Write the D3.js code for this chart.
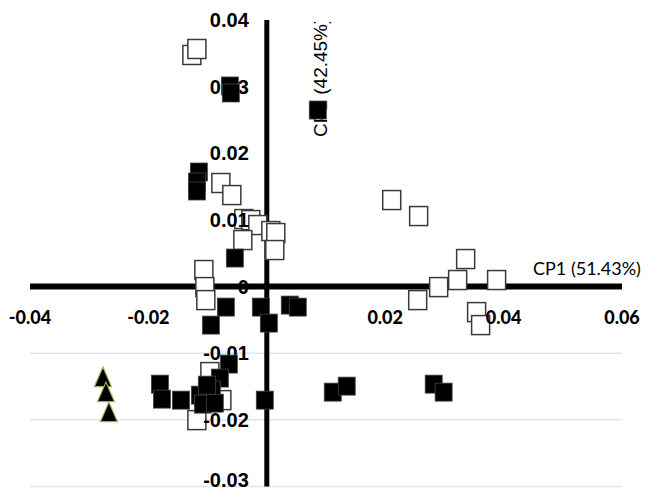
<!DOCTYPE html>
<html>
<head>
<meta charset="utf-8">
<script src="https://cdn.jsdelivr.net/npm/d3@7/dist/d3.min.js"></script>
<style>
  html, body { margin: 0; padding: 0; background: #fff; }
  svg { display: block; }
</style>
</head>
<body>
<div id="chart"></div>
<script>
// PCA scores: CP1 (x) vs CP2 (y)
const xTicks = [-0.04, -0.02, 0.02, 0.04, 0.06];
const xTickLabels = ["-0.04", "-0.02", "0.02", "0.04", "0.06"];
const yTicks = [0.04, 0.03, 0.02, 0.01, 0, -0.01, -0.02, -0.03];
const yTickLabels = ["0.04", "0.03", "0.02", "0.01", "0", "-0.01", "-0.02", "-0.03"];
const gridValues = [-0.01, -0.02, -0.03];

// open squares
const openX = [-0.01266, -0.01181, -0.00776, -0.00591, -0.00388, -0.00270, -0.00152, 0.00068, 0.00152,
  -0.00405, 0.00135, -0.01063, -0.01046, -0.01030, -0.00962, -0.01181, -0.00759,
  0.02110, 0.02565, 0.03359, 0.03224, 0.02903, 0.02549, 0.03882, 0.03544, 0.03612];
const openY = [0.03475, 0.03565, 0.01554, 0.01373, 0.01013, 0.00998, 0.00923, 0.00833, 0.00803,
  0.00698, 0.00548, 0.00248, -0.00008, -0.00203, -0.01283, -0.02004, -0.01704,
  0.01298, 0.01058, 0.00413, 0.00098, -0.00008, -0.00203, 0.00098, -0.00383, -0.00578];

// filled squares
const filledX = [-0.00624, -0.00608, 0.00861, -0.01148, -0.01181, -0.01181, -0.00540, -0.00692, -0.00945,
  -0.00101, 0.00034, 0.00388, 0.00523, -0.01806, -0.01772, -0.01451, -0.00641, -0.00793,
  -0.00928, -0.01131, -0.01080, -0.00878, -0.01013, -0.00034, 0.01114, 0.01350, 0.02819, 0.02987];
const filledY = [0.03010, 0.02905, 0.02649, 0.01719, 0.01569, 0.01434, 0.00428, -0.00308, -0.00578,
  -0.00308, -0.00548, -0.00278, -0.00308, -0.01464, -0.01689, -0.01704, -0.01163, -0.01373,
  -0.01554, -0.01629, -0.01764, -0.01749, -0.01479, -0.01704, -0.01584, -0.01494, -0.01464, -0.01584];

// triangles
const triX = [-0.02768, -0.02717, -0.02667];
const triY = [-0.01373, -0.01599, -0.01899];

const W = 650, H = 493;
const svg = d3.select("#chart").append("svg").attr("width", W).attr("height", H);

const x = d3.scaleLinear().domain([-0.04, 0.06]).range([30, 622]);
const y = d3.scaleLinear().domain([-0.03, 0.04]).range([486.5, 20]);

// horizontal gridlines
svg.append("g").selectAll("line").data(gridValues).join("line")
  .attr("x1", x(-0.04)).attr("x2", x(0.06))
  .attr("y1", d => y(d)).attr("y2", d => y(d))
  .attr("stroke", "#dde5f0").attr("stroke-width", 1.5);

// axes through the origin
svg.append("line")
  .attr("x1", x(-0.04)).attr("x2", x(0.06))
  .attr("y1", y(0)).attr("y2", y(0))
  .attr("stroke", "#000").attr("stroke-width", 6);
svg.append("line")
  .attr("x1", x(0)).attr("x2", x(0))
  .attr("y1", y(0.04)).attr("y2", y(-0.03))
  .attr("stroke", "#000").attr("stroke-width", 5);

// open squares (drawn beneath the labels)
const openData = openX.map((v, i) => [v, openY[i]]);
svg.append("g").selectAll("rect").data(openData).join("rect")
  .attr("x", d => x(d[0]) - 9).attr("y", d => y(d[1]) - 9.5)
  .attr("width", 18).attr("height", 19)
  .attr("fill", "#fff").attr("stroke", "#3a3a3a").attr("stroke-width", 1.5);

// x tick labels
svg.append("g").selectAll("text").data(xTicks).join("text")
  .attr("x", d => x(d)).attr("y", y(0) + 37)
  .attr("text-anchor", "middle")
  .style("font-family", "Lato, 'Open Sans', sans-serif")
  .style("font-weight", "900").style("font-size", "18px")
  .text((d, i) => xTickLabels[i]);

// y tick labels (the lowest one is nudged up to stay inside the frame)
svg.append("g").selectAll("text").data(yTicks).join("text")
  .attr("x", x(0) - 18).attr("y", d => Math.min(y(d), 480))
  .attr("dy", "0.36em")
  .attr("text-anchor", "end")
  .style("font-family", "'Liberation Sans', Arial, sans-serif")
  .style("font-weight", "bold").style("font-size", "20px")
  .text((d, i) => yTickLabels[i]);

// axis titles
svg.append("text")
  .attr("x", 533).attr("y", y(0) - 12)
  .style("font-family", "Lato, 'Open Sans', sans-serif")
  .style("font-size", "18px")
  .text("CP1 (51.43%)");

svg.append("clipPath").attr("id", "cp2clip")
  .append("rect").attr("x", 0).attr("y", 22).attr("width", W).attr("height", H);
svg.append("g").attr("clip-path", "url(#cp2clip)")
  .append("text")
  .attr("transform", "translate(327,137) rotate(-90)")
  .style("font-family", "'Liberation Sans', Arial, sans-serif")
  .style("font-size", "19px")
  .text("CP2 (42.45%)");

// filled squares
const filledData = filledX.map((v, i) => [v, filledY[i]]);
svg.append("g").selectAll("rect").data(filledData).join("rect")
  .attr("x", d => x(d[0]) - 8.5).attr("y", d => y(d[1]) - 9)
  .attr("width", 17).attr("height", 18)
  .attr("fill", "#000").attr("stroke", "#444").attr("stroke-width", 0.8);

// triangles
const triData = triX.map((v, i) => [v, triY[i]]);
svg.append("g").selectAll("path").data(triData).join("path")
  .attr("transform", d => `translate(${x(d[0])},${y(d[1])})`)
  .attr("d", "M0,-11L8.5,8.5L-8.5,8.5Z")
  .attr("fill", "#000").attr("stroke", "#a4b455").attr("stroke-width", 1.2);
</script>
</body>
</html>
